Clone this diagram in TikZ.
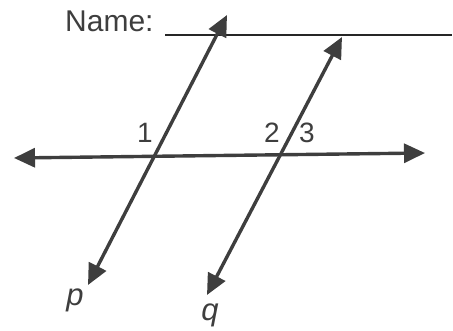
\documentclass[tikz,border=0pt]{standalone}
\usepackage{fontspec}
\setmainfont{Liberation Sans}
\usetikzlibrary{arrows.meta}
\definecolor{inkgray}{RGB}{62,62,62}
\tikzset{
  transv/.style={inkgray, line width=3.4pt,
    {Triangle[length=21pt,width=19pt]}-{Triangle[length=21pt,width=19pt]}},
  anglab/.style={inkgray, inner sep=0pt, font=\fontsize{28}{28}\selectfont},
  linelab/.style={inkgray, inner sep=0pt, font=\fontsize{31}{31}\selectfont\itshape}
}
\begin{document}
\begin{tikzpicture}[x=1pt, y=-1pt]
  \useasboundingbox (0,0) rectangle (453,330);
  % heading with blank for the name
  \node[inkgray, inner sep=0pt, anchor=base west, font=\fontsize{30}{30}\selectfont] (name) at (65,31) {Name:};
  \coordinate (blankL) at (165,35);
  \coordinate (blankR) at (452,35);
  \draw[black!85, line width=1.4pt] (blankL) -- (blankR);

  % end points of the three lines
  \coordinate (hL) at (14,158);
  \coordinate (hR) at (425,153);
  \coordinate (pT) at (227,15);
  \coordinate (pB) at (88,285);
  \coordinate (qT) at (342,37);
  \coordinate (qB) at (207,295);

  \draw[transv] (hL) -- (hR);
  \draw[transv] (pB) -- (pT);
  \draw[transv] (qB) -- (qT);

  % angle numbers
  \node[anglab] (a1) at (145,133) {1};
  \node[anglab] (a2) at (272,133) {2};
  \node[anglab] (a3) at (307,133) {3};

  % line names
  \node[linelab] (p) at (75,300) {p};
  \node[linelab] (q) at (210,315) {q};
\end{tikzpicture}
\end{document}
